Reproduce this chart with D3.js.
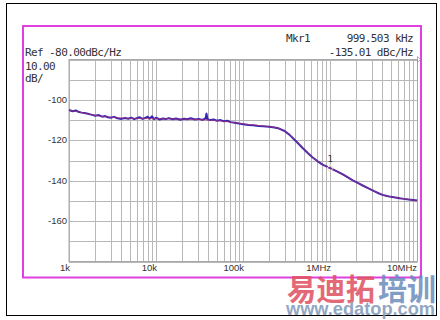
<!DOCTYPE html>
<html><head><meta charset="utf-8">
<script src="https://cdn.jsdelivr.net/npm/d3@7"></script>
<style>html,body{margin:0;padding:0;background:#fff;}svg{display:block;}</style>
</head><body>
<svg id="c" width="440" height="320"></svg>
<script>
// ---- data ----
const traceFreq = [1000,1100,1200,1300,1400,1500,1650,1800,2000,2200,2400,2600,2800,3000,3300,3600,4000,4400,4800,5200,5600,6000,6500,7000,7500,8000,8500,9000,9500,10000,11000,12000,13000,14000,15500,17000,19000,21000,23000,25000,28000,31000,34000,37000,38000,39000,42000,46000,50000,55000,60000,66000,72000,80000,90000,100000,115000,130000,150000,170000,200000,230000,260000,300000,340000,380000,420000,480000,550000,630000,720000,820000,1000000,1200000,1400000,1600000,1800000,2100000,2400000,2800000,3200000,3600000,4000000,4500000,5000000,5600000,6300000,7000000,8000000,9000000,10000000];
const traceDb = [-105.0,-105.6,-105.2,-106.0,-106.3,-106.5,-106.9,-107.3,-107.8,-107.5,-108.3,-108.0,-108.6,-108.8,-108.4,-109.1,-109.4,-109.0,-109.3,-108.8,-109.5,-109.1,-108.6,-109.4,-109.0,-108.3,-109.3,-108.1,-109.6,-108.8,-109.7,-109.2,-109.5,-109.0,-109.6,-109.2,-109.8,-109.3,-109.6,-109.1,-109.7,-109.4,-109.9,-109.2,-106.8,-109.6,-110.0,-109.7,-110.3,-110.0,-110.6,-110.3,-111.0,-111.3,-111.7,-112.0,-112.4,-112.5,-112.9,-113.0,-113.3,-113.7,-114.2,-115.4,-117.2,-119.2,-121.1,-123.7,-126.2,-128.5,-130.4,-132.0,-133.8,-135.4,-136.9,-138.4,-139.7,-141.2,-142.5,-143.9,-145.2,-146.2,-147.0,-147.6,-148.0,-148.3,-148.7,-149.0,-149.3,-149.5,-149.8];
const smoothFreq = [1000,1500,2000,3000,5000,10000,20000,50000,100000,200000,260000,300000,380000,480000,630000,820000,1000000,1400000,1800000,2400000,3200000,4000000,5600000,8000000,10000000];
const smoothDb = [-105.1,-106.5,-107.7,-108.6,-109.1,-109.3,-109.5,-110.2,-111.9,-113.3,-114.2,-115.4,-119.2,-123.7,-128.5,-132.0,-133.8,-136.9,-139.7,-142.5,-145.2,-147.0,-148.3,-149.3,-149.8];
const yTicks = [-100,-120,-140,-160];
const xTickVals = [1e3,1e4,1e5,1e6,1e7];
const xTickLabels = ["1k","10k","100k","1MHz","10MHz"];
const markerFreq = 1000000, markerDb = -133.8;
const headerLeft = ["Ref -80.00dBc/Hz","10.00","dB/"];
const mkrLabel = "Mkr1", mkrFreqText = "999.503 kHz", mkrValText = "-135.01 dBc/Hz";

// ---- layout ----
const svg = d3.select("#c");
const L = 69, R = 417.5, T = 59.5, B = 261.5;
const x = d3.scaleLog().domain([1e3, 1.01e7]).range([L, R]);
const y = d3.scaleLinear().domain([-80, -180]).range([T, B]);

// outer frame
svg.append("rect").attr("x",6.5).attr("y",3.5).attr("width",430).attr("height",312)
  .attr("fill","none").attr("stroke","#000").attr("stroke-width",1);
// magenta frame
svg.append("rect").attr("x",23).attr("y",26).attr("width",398).attr("height",251.5)
  .attr("fill","none").attr("stroke","#e040e0").attr("stroke-width",2);

// grid
const g = svg.append("g");
const minor = [];
for (let d = 1e3; d < 1e7; d *= 10) for (let k = 1; k < 10; k++) minor.push(d*k);
minor.push(1e7);
g.selectAll("line.v").data(minor).enter().append("line")
  .attr("x1",d=>Math.round(x(d))+0.5).attr("x2",d=>Math.round(x(d))+0.5)
  .attr("y1",T).attr("y2",B).attr("stroke","#b8b8b8").attr("stroke-width",1);
const hl = d3.range(-80,-181,-10);
g.selectAll("line.h").data(hl).enter().append("line")
  .attr("x1",L).attr("x2",R).attr("y1",d=>Math.round(y(d))+0.5).attr("y2",d=>Math.round(y(d))+0.5)
  .attr("stroke","#b8b8b8").attr("stroke-width",1);
svg.append("rect").attr("x",L).attr("y",T).attr("width",R-L).attr("height",B-T)
  .attr("fill","none").attr("stroke","#a8a8a8");

// y tick labels
svg.selectAll("text.yt").data(yTicks).enter().append("text")
  .attr("x",67).attr("y",d=>y(d)+3).attr("text-anchor","end")
  .attr("font-family","Liberation Sans, Arial, sans-serif").attr("font-size",9.5).attr("fill","#333")
  .text(d=>"-"+Math.abs(d));
// x tick labels
svg.selectAll("text.xt").data(xTickVals).enter().append("text")
  .attr("x",(d,i)=>i===4?417:x(d)+1).attr("y",271).attr("text-anchor","end")
  .attr("font-family","Liberation Sans, Arial, sans-serif").attr("font-size",9.5).attr("fill","#333")
  .text((d,i)=>xTickLabels[i]);

// header text
const mono = "DejaVu Sans Mono, monospace";
const hdr = (t,xx,yy,anchor) => svg.append("text").attr("x",xx).attr("y",yy)
  .attr("text-anchor",anchor||"start").attr("font-family",mono).attr("font-size",11)
  .attr("letter-spacing",-0.6).attr("fill","#333").text(t);
hdr(headerLeft[0],25,56);
hdr(headerLeft[1],25,70);
hdr(headerLeft[2],25,82);
hdr(mkrLabel,286,42);
hdr(mkrFreqText,413,42,"end");
hdr(mkrValText,413,56,"end");

// reference level marker
svg.append("path").attr("d",`M${R},${T-3}L${R+3},${T}L${R},${T+3}Z`).attr("fill","none").attr("stroke","#999").attr("stroke-width",0.8);

// traces
const line = d3.line().x(d=>x(d[0])).y(d=>y(d[1]));
svg.append("path").datum(traceFreq.map((f,i)=>[f,traceDb[i]]))
  .attr("d",line).attr("fill","none").attr("stroke","#3526b8").attr("stroke-width",2).attr("stroke-linejoin","round");
svg.append("path").datum(smoothFreq.map((f,i)=>[f,smoothDb[i]]))
  .attr("d",d3.line().curve(d3.curveMonotoneX).x(d=>x(d[0])).y(d=>y(d[1])))
  .attr("fill","none").attr("stroke","#b0306a").attr("stroke-width",0.9).attr("opacity",0.8);

// marker
const mx = x(markerFreq), my = y(markerDb);
svg.append("path").attr("d",`M${mx},${my-3.5}L${mx+3},${my}L${mx},${my+3.5}L${mx-3},${my}Z`)
  .attr("fill","none").attr("stroke","#e8e0c8").attr("stroke-width",1);
svg.append("text").attr("x",mx).attr("y",my-6).attr("text-anchor","middle")
  .attr("font-family",mono).attr("font-size",9).attr("fill","#333").text("1");

// watermark
const wm = svg.append("g").attr("opacity",0.85);
wm.append("text").attr("x",287).attr("y",300).attr("font-family","Noto Sans CJK SC").attr("font-weight","bold")
  .attr("font-size",30).attr("textLength",88).attr("lengthAdjust","spacingAndGlyphs").attr("fill","#e05060").text("易迪拓");
wm.append("text").attr("x",378).attr("y",300).attr("font-family","Noto Sans CJK SC").attr("font-weight","bold")
  .attr("font-size",30).attr("textLength",58).attr("lengthAdjust","spacingAndGlyphs").attr("fill","#6a8cbc").text("培训");
wm.append("text").attr("x",286).attr("y",315).attr("font-family","Liberation Sans, Arial, sans-serif").attr("font-weight","bold")
  .attr("font-size",19).attr("textLength",149).attr("lengthAdjust","spacingAndGlyphs").attr("fill","#7f98b8").text("www.edatop.com");
</script>
</body></html>
